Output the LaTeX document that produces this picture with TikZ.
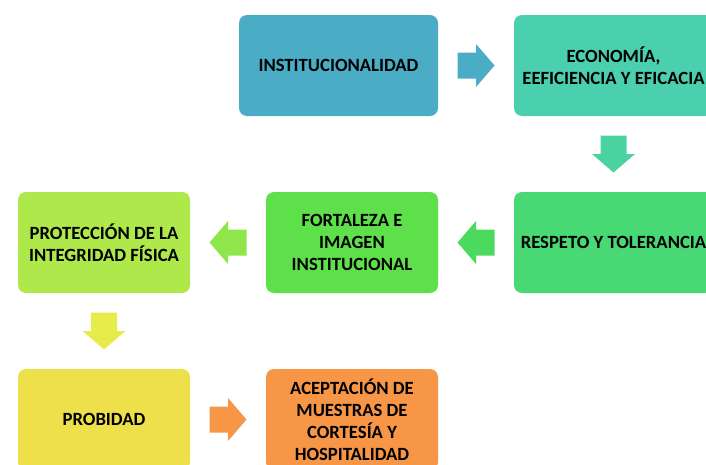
\documentclass[tikz,border=0pt]{standalone}
\usepackage{fontspec}
\setmainfont{Carlito}
\usetikzlibrary{calc}
\definecolor{instblue}{HTML}{4BACC6}
\definecolor{econgreen}{HTML}{4ACFAF}
\definecolor{econarrow}{HTML}{4AD2A0}
\definecolor{respgreen}{HTML}{48D874}
\definecolor{resparrow}{HTML}{4CDA5E}
\definecolor{fortgreen}{HTML}{5EE04A}
\definecolor{fortarrow}{HTML}{8EE64A}
\definecolor{protgreen}{HTML}{AEE84A}
\definecolor{protarrow}{HTML}{E6EC4A}
\definecolor{probyellow}{HTML}{EEE04A}
\definecolor{acepnaranja}{HTML}{F79646}
\begin{document}
\begin{tikzpicture}[x=0.75pt,y=-0.75pt,
    caja/.style={rounded corners=6pt,minimum width=129pt,minimum height=75.75pt,
      inner sep=0pt,align=center,font=\bfseries\fontsize{14}{16.4}\selectfont},
    ancha/.style={caja,minimum width=149.25pt},
    blockarrow/.pic={\path[pic actions] (-18.5,-13) -- (0,-13) -- (0,-21.5) -- (18.5,0)
      -- (0,21.5) -- (0,13) -- (-18.5,13) -- cycle;}]
  \useasboundingbox (0,0) rectangle (706,464);
  % cajas
  \node[ancha,fill=instblue] (inst) at (338.5,65.5) {INSTITUCIONALIDAD};
  \node[ancha,fill=econgreen] (econ) at (613.5,65.5) {ECONOMÍA,\\EEFICIENCIA Y EFICACIA};
  \node[ancha,fill=respgreen] (resp) at (613.5,242.5) {RESPETO Y TOLERANCIA};
  \node[caja,fill=fortgreen] (fort) at (352,242.5) {FORTALEZA E\\IMAGEN\\INSTITUCIONAL};
  \node[caja,fill=protgreen] (prot) at (104,242.5) {PROTECCIÓN DE LA\\INTEGRIDAD FÍSICA};
  \node[caja,fill=probyellow] (prob) at (104,419.5) {PROBIDAD};
  \node[caja,fill=acepnaranja] (acep) at (352,419.5) {ACEPTACIÓN DE\\MUESTRAS DE\\CORTESÍA Y\\HOSPITALIDAD};
  % flechas
  \pic[fill=instblue] at ($(inst.east)!0.5!(econ.west)$) {blockarrow};
  \pic[fill=econarrow,rotate=-90] at ($(econ.south)!0.5!(resp.north)$) {blockarrow};
  \pic[fill=resparrow,rotate=180] at ($(resp.west)!0.5!(fort.east)$) {blockarrow};
  \pic[fill=fortarrow,rotate=180] at ($(fort.west)!0.5!(prot.east)$) {blockarrow};
  \pic[fill=protarrow,rotate=-90] at ($(prot.south)!0.5!(prob.north)$) {blockarrow};
  \pic[fill=acepnaranja] at ($(prob.east)!0.5!(acep.west)$) {blockarrow};
\end{tikzpicture}
\end{document}
